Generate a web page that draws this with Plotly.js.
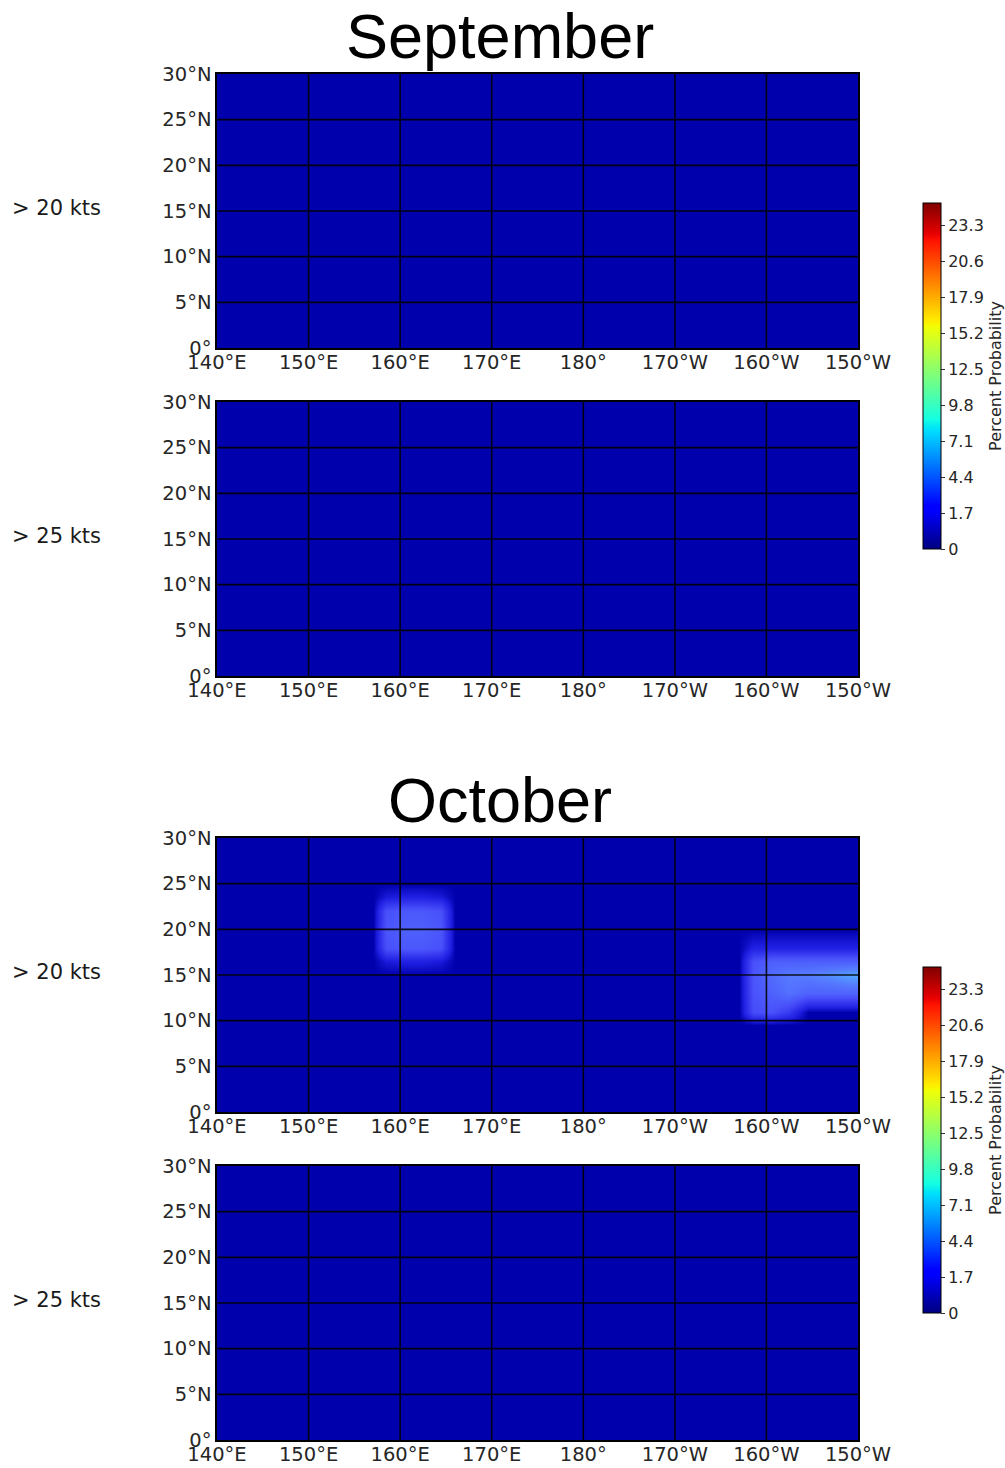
<!DOCTYPE html>
<html>
<head>
<meta charset="utf-8">
<script src="https://cdn.plot.ly/plotly-3.0.1.min.js"></script>
<style>html,body{margin:0;padding:0;background:#fff;}#chart{width:1005px;height:1468px;}</style>
</head>
<body>
<div id="chart"></div>
<script>
// ---- data ----
const lonTickVals = [140, 150, 160, 170, 180, 190, 200, 210];
const lonTickText = ["140°E", "150°E", "160°E", "170°E", "180°", "170°W", "160°W", "150°W"];
const latTickVals = [0, 5, 10, 15, 20, 25, 30];
const latTickText = ["0°", "5°N", "10°N", "15°N", "20°N", "25°N", "30°N"];

const cbTickVals = [-1.0, 1.7, 4.4, 7.1, 9.8, 12.5, 15.2, 17.9, 20.6, 23.3];
const cbTickText = ["0", "1.7", "4.4", "7.1", "9.8", "12.5", "15.2", "17.9", "20.6", "23.3"];

// panels with no probability anywhere (all zero)
const zeroLon = [140, 210];
const zeroLat = [0, 30];
const zeroField = [[0, 0], [0, 0]];

// October > 20 kts probability field (grid centres)
const octLon = [140, 157, 158.5, 160.5, 162.5, 164.5, 166, 197, 198.5, 200.5, 202.5, 204.5, 206.5, 208.5, 210];
const octLat = [0, 9.5, 11, 13, 15, 16.5, 18, 20, 22, 23.5, 25, 30];
const octField = [
  [0, 0, 0,   0,   0,   0,   0, 0, 0,   0,   0,   0,   0,   0,   0  ], // 0
  [0, 0, 0,   0,   0,   0,   0, 0, 0,   0,   0,   0,   0,   0,   0  ], // 9.5
  [0, 0, 0,   0,   0,   0,   0, 0, 2.2, 2.4, 1.6, 0,   0,   0,   0  ], // 11
  [0, 0, 0,   0,   0,   0,   0, 0, 2.4, 2.9, 3.5, 3.0, 3.0, 3.0, 3.0], // 13
  [0, 0, 0,   0,   0,   0,   0, 0, 2.5, 3.3, 3.8, 3.9, 4.2, 4.6, 4.9], // 15
  [0, 0, 0.6, 0.8, 0.8, 0.6, 0, 0, 2.3, 2.8, 2.8, 2.8, 2.8, 2.8, 2.8], // 16.5
  [0, 0, 2.3, 2.6, 2.6, 2.3, 0, 0, 0.8, 0.8, 0.8, 0.8, 0.8, 0.8, 0.8], // 18
  [0, 0, 2.5, 2.9, 2.9, 2.5, 0, 0, 0,   0,   0,   0,   0,   0,   0  ], // 20
  [0, 0, 2.3, 2.6, 2.6, 2.3, 0, 0, 0,   0,   0,   0,   0,   0,   0  ], // 22
  [0, 0, 0.6, 0.8, 0.8, 0.6, 0, 0, 0,   0,   0,   0,   0,   0,   0  ], // 23.5
  [0, 0, 0,   0,   0,   0,   0, 0, 0,   0,   0,   0,   0,   0,   0  ], // 25
  [0, 0, 0,   0,   0,   0,   0, 0, 0,   0,   0,   0,   0,   0,   0  ]  // 30
];

const monthTitles = ["September", "October"];
const rowLabels = ["> 20 kts", "> 25 kts", "> 20 kts", "> 25 kts"];

// ---- styling ----
function jetAt(t) {
  function seg(pts) {
    for (let i = 0; i < pts.length - 1; i++) {
      const [x0, y0] = pts[i], [x1, y1] = pts[i + 1];
      if (t >= x0 && t <= x1) return y0 + (y1 - y0) * (t - x0) / (x1 - x0);
    }
    return pts[pts.length - 1][1];
  }
  const r = seg([[0, 0], [0.35, 0], [0.66, 1], [0.89, 1], [1, 0.5]]);
  const g = seg([[0, 0], [0.125, 0], [0.375, 1], [0.64, 1], [0.91, 0], [1, 0]]);
  const b = seg([[0, 0.5], [0.11, 1], [0.34, 1], [0.65, 0], [1, 0]]);
  return `rgb(${Math.round(r * 255)},${Math.round(g * 255)},${Math.round(b * 255)})`;
}
const jetStops = [0, 0.11, 0.125, 0.34, 0.35, 0.375, 0.64, 0.65, 0.66, 0.89, 0.91, 1];
const jet = jetStops.map(s => [s, jetAt(s)]);
const ZMIN = -1.0, ZMAX = 24.95;

// look of the shaded areas in the October panel
const octScale = [[0, jetAt((0 - ZMIN) / (ZMAX - ZMIN))], [0.14, 'rgb(30,30,225)'], [0.45, 'rgb(72,78,250)'],
                  [0.75, 'rgb(85,120,255)'], [1, 'rgb(80,175,255)']];

const W = 1005, H = 1468;
const xDom = [217 / W, 858 / W];
const panelsPx = [[74, 348], [402, 676], [838, 1112], [1166, 1440]];
const yDoms = panelsPx.map(([t, b]) => [1 - b / H, 1 - t / H]);

const tickFont = {family: 'DejaVu Sans, sans-serif', size: 19.5, color: '#262626'};
const cbFont = {family: 'DejaVu Sans, sans-serif', size: 16, color: '#262626'};

function colorbar(centerPx) {
  return {
    x: 923 / W, xanchor: 'left', xpad: 0,
    y: 1 - centerPx / H, yanchor: 'middle', ypad: 0,
    thickness: 18, thicknessmode: 'pixels',
    len: 346, lenmode: 'pixels',
    outlinewidth: 1, outlinecolor: '#000',
    tickmode: 'array', tickvals: cbTickVals, ticktext: cbTickText,
    ticks: 'outside', ticklen: 4, tickcolor: '#333',
    tickfont: cbFont,
    title: {text: 'Percent Probability', side: 'right', font: cbFont}
  };
}

const traces = [
  {type: 'heatmap', x: zeroLon, y: zeroLat, z: zeroField, xaxis: 'x', yaxis: 'y',
   colorscale: jet, zmin: ZMIN, zmax: ZMAX, zsmooth: false, hoverinfo: 'skip',
   showscale: true, colorbar: colorbar(376)},
  {type: 'heatmap', x: zeroLon, y: zeroLat, z: zeroField, xaxis: 'x2', yaxis: 'y2',
   colorscale: jet, zmin: ZMIN, zmax: ZMAX, zsmooth: false, hoverinfo: 'skip', showscale: false},
  {type: 'heatmap', x: octLon, y: octLat, z: octField, xaxis: 'x3', yaxis: 'y3',
   colorscale: octScale, zmin: 0, zmax: 5, zsmooth: 'best', hoverinfo: 'skip', showscale: false},
  {type: 'heatmap', x: zeroLon, y: zeroLat, z: zeroField, xaxis: 'x4', yaxis: 'y4',
   colorscale: jet, zmin: ZMIN, zmax: ZMAX, zsmooth: false, hoverinfo: 'skip',
   showscale: true, colorbar: colorbar(1140)}
];

const layout = {
  width: W, height: H,
  margin: {l: 0, r: 0, t: 0, b: 0, pad: 0},
  paper_bgcolor: '#fff', plot_bgcolor: '#fff',
  showlegend: false,
  annotations: [],
  shapes: []
};

const gridLine = {color: 'rgba(0,0,0,0.88)', width: 1.6};

for (let i = 0; i < 4; i++) {
  const s = i === 0 ? '' : String(i + 1);
  layout['xaxis' + s] = {
    domain: xDom, anchor: 'y' + s, range: [140, 210],
    tickmode: 'array', tickvals: lonTickVals, ticktext: lonTickText,
    showgrid: false, showline: true, mirror: true, linecolor: '#000', linewidth: 1.6,
    ticks: '', ticklabelstandoff: -4, zeroline: false, tickfont: tickFont, fixedrange: true
  };
  layout['yaxis' + s] = {
    domain: yDoms[i], anchor: 'x' + s, range: [0, 30],
    tickmode: 'array', tickvals: latTickVals, ticktext: latTickText,
    showgrid: false, showline: true, mirror: true, linecolor: '#000', linewidth: 1.6,
    ticks: '', zeroline: false, tickfont: tickFont, fixedrange: true
  };
  // graticule drawn above the shading
  lonTickVals.slice(1, -1).forEach(v => layout.shapes.push({
    type: 'line', xref: 'x' + s, yref: 'y' + s + ' domain', x0: v, x1: v, y0: 0, y1: 1,
    line: gridLine, layer: 'above'
  }));
  latTickVals.slice(1, -1).forEach(v => layout.shapes.push({
    type: 'line', xref: 'x' + s + ' domain', yref: 'y' + s, x0: 0, x1: 1, y0: v, y1: v,
    line: gridLine, layer: 'above'
  }));
  const [t, b] = panelsPx[i];
  layout.annotations.push({
    text: rowLabels[i], xref: 'paper', yref: 'paper',
    x: 10 / W, xanchor: 'left', y: 1 - ((t + b) / 2 - 3) / H, yanchor: 'middle',
    showarrow: false, font: {family: 'DejaVu Sans, sans-serif', size: 21, color: '#1a1a1a'}
  });
}

const titleY = [36, 800];
monthTitles.forEach((m, k) => {
  layout.annotations.push({
    text: m, xref: 'paper', yref: 'paper', x: 500 / W, xanchor: 'center',
    y: 1 - titleY[k] / H, yanchor: 'middle', showarrow: false,
    font: {family: 'Liberation Sans, Arial, sans-serif', size: 63, color: '#000'}
  });
});

Plotly.newPlot('chart', traces, layout, {staticPlot: true, displayModeBar: false});
</script>
</body>
</html>
